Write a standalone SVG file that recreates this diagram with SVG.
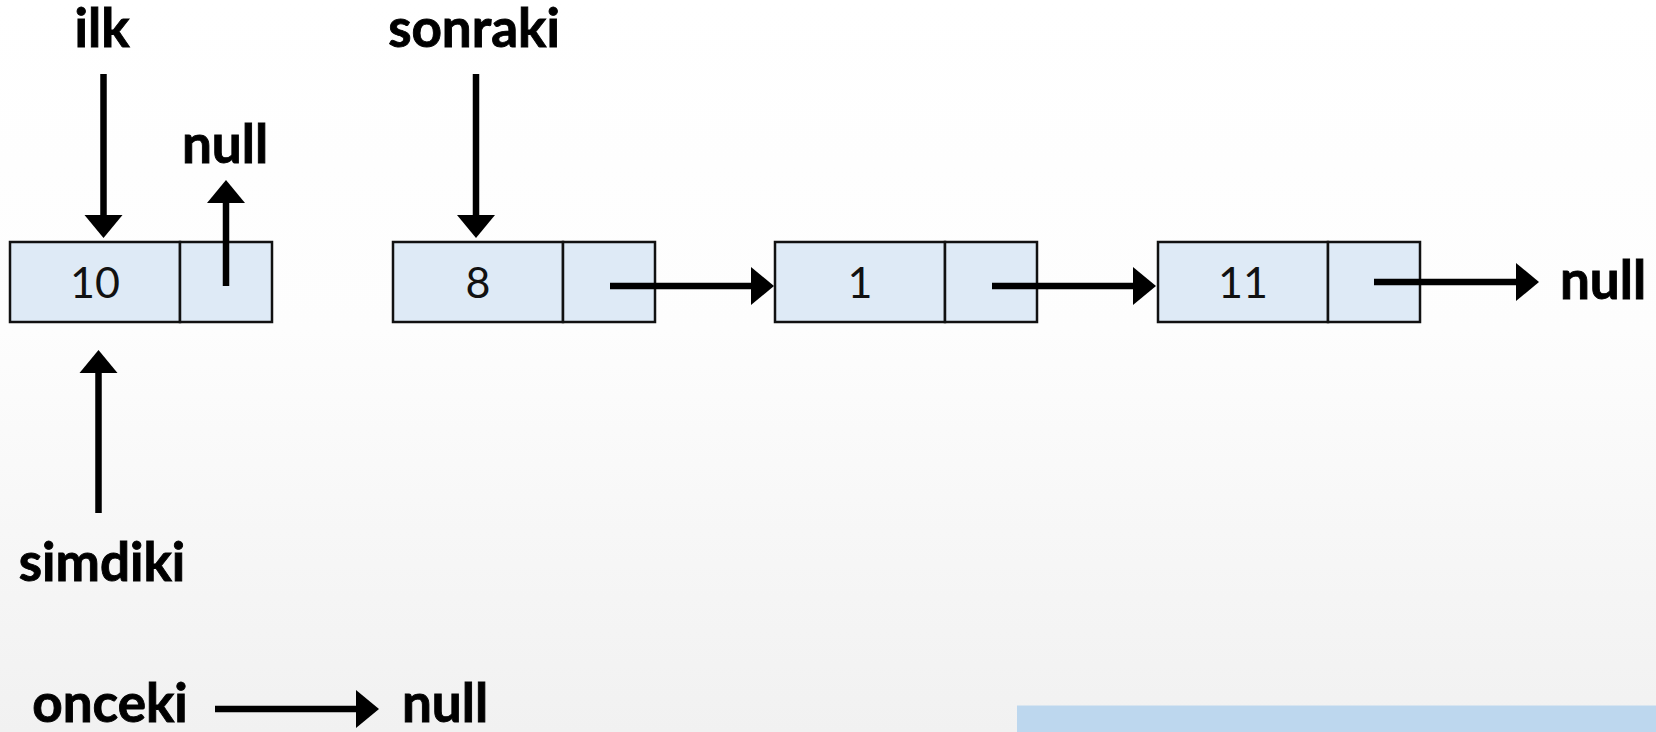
<svg xmlns="http://www.w3.org/2000/svg" width="1656" height="732" viewBox="0 0 1656 732">
<defs>
<linearGradient id="bg" x1="0" y1="0" x2="0" y2="1">
<stop offset="0" stop-color="#ffffff"/>
<stop offset="0.45" stop-color="#fdfdfd"/>
<stop offset="1" stop-color="#f1f1f1"/>
</linearGradient>
<marker id="ah" markerUnits="userSpaceOnUse" markerWidth="24" markerHeight="40" viewBox="0 -20 24 40" refX="0" refY="0" orient="auto">
<path d="M0,-19 L23,0 L0,19 Z" fill="#000"/>
</marker>
<style>
.cell{fill:#deeaf6;stroke:#111;stroke-width:2.5}
.lbl{font-family:Lato,"Open Sans","Liberation Sans",sans-serif;font-weight:700;font-size:53px;fill:#000;stroke:#000;stroke-width:0.9;text-anchor:middle}
.val{font-family:Lato,"Open Sans","Liberation Sans",sans-serif;font-weight:400;font-size:43px;fill:#111;text-anchor:middle}
.arr{stroke:#000;stroke-width:6.5;fill:none;marker-end:url(#ah)}
</style>
</defs>
<rect x="0" y="0" width="1656" height="732" fill="url(#bg)"/>
<rect x="1017" y="705.5" width="639" height="26.5" fill="#bdd7ee"/>

<g id="node-10">
<rect class="cell" x="10" y="242" width="170" height="80"/>
<rect class="cell" x="180" y="242" width="92" height="80"/>
<text class="val" x="95" y="298">10</text>
</g>
<g id="node-8">
<rect class="cell" x="393" y="242" width="170" height="80"/>
<rect class="cell" x="563" y="242" width="92" height="80"/>
<text class="val" x="478" y="298">8</text>
</g>
<g id="node-1">
<rect class="cell" x="775" y="242" width="170" height="80"/>
<rect class="cell" x="945" y="242" width="92" height="80"/>
<text class="val" x="860" y="298">1</text>
</g>
<g id="node-11">
<rect class="cell" x="1158" y="242" width="170" height="80"/>
<rect class="cell" x="1328" y="242" width="92" height="80"/>
<text class="val" x="1243" y="298">11</text>
</g>

<g id="label-ilk"><text class="lbl" x="102" y="47">ilk</text></g>
<g id="label-sonraki"><text class="lbl" x="474" y="47">sonraki</text></g>
<g id="label-null-top"><text class="lbl" x="225" y="163">null</text></g>
<g id="label-null-right"><text class="lbl" x="1603" y="299">null</text></g>
<g id="label-simdiki"><text class="lbl" x="102" y="581">simdiki</text></g>
<g id="label-onceki"><text class="lbl" x="110" y="722">onceki</text></g>
<g id="label-null-bottom"><text class="lbl" x="445" y="722">null</text></g>

<g id="connectors">
<line class="arr" x1="103.5" y1="74" x2="103.5" y2="215"/>
<line class="arr" x1="476" y1="74" x2="476" y2="215"/>
<line class="arr" x1="226" y1="286" x2="226" y2="203"/>
<line class="arr" x1="610" y1="286" x2="751" y2="286"/>
<line class="arr" x1="992" y1="286" x2="1133" y2="286"/>
<line class="arr" x1="1374" y1="282" x2="1516" y2="282"/>
<line class="arr" x1="98.5" y1="513" x2="98.5" y2="373"/>
<line class="arr" x1="215" y1="709" x2="356" y2="709"/>
</g>
</svg>
